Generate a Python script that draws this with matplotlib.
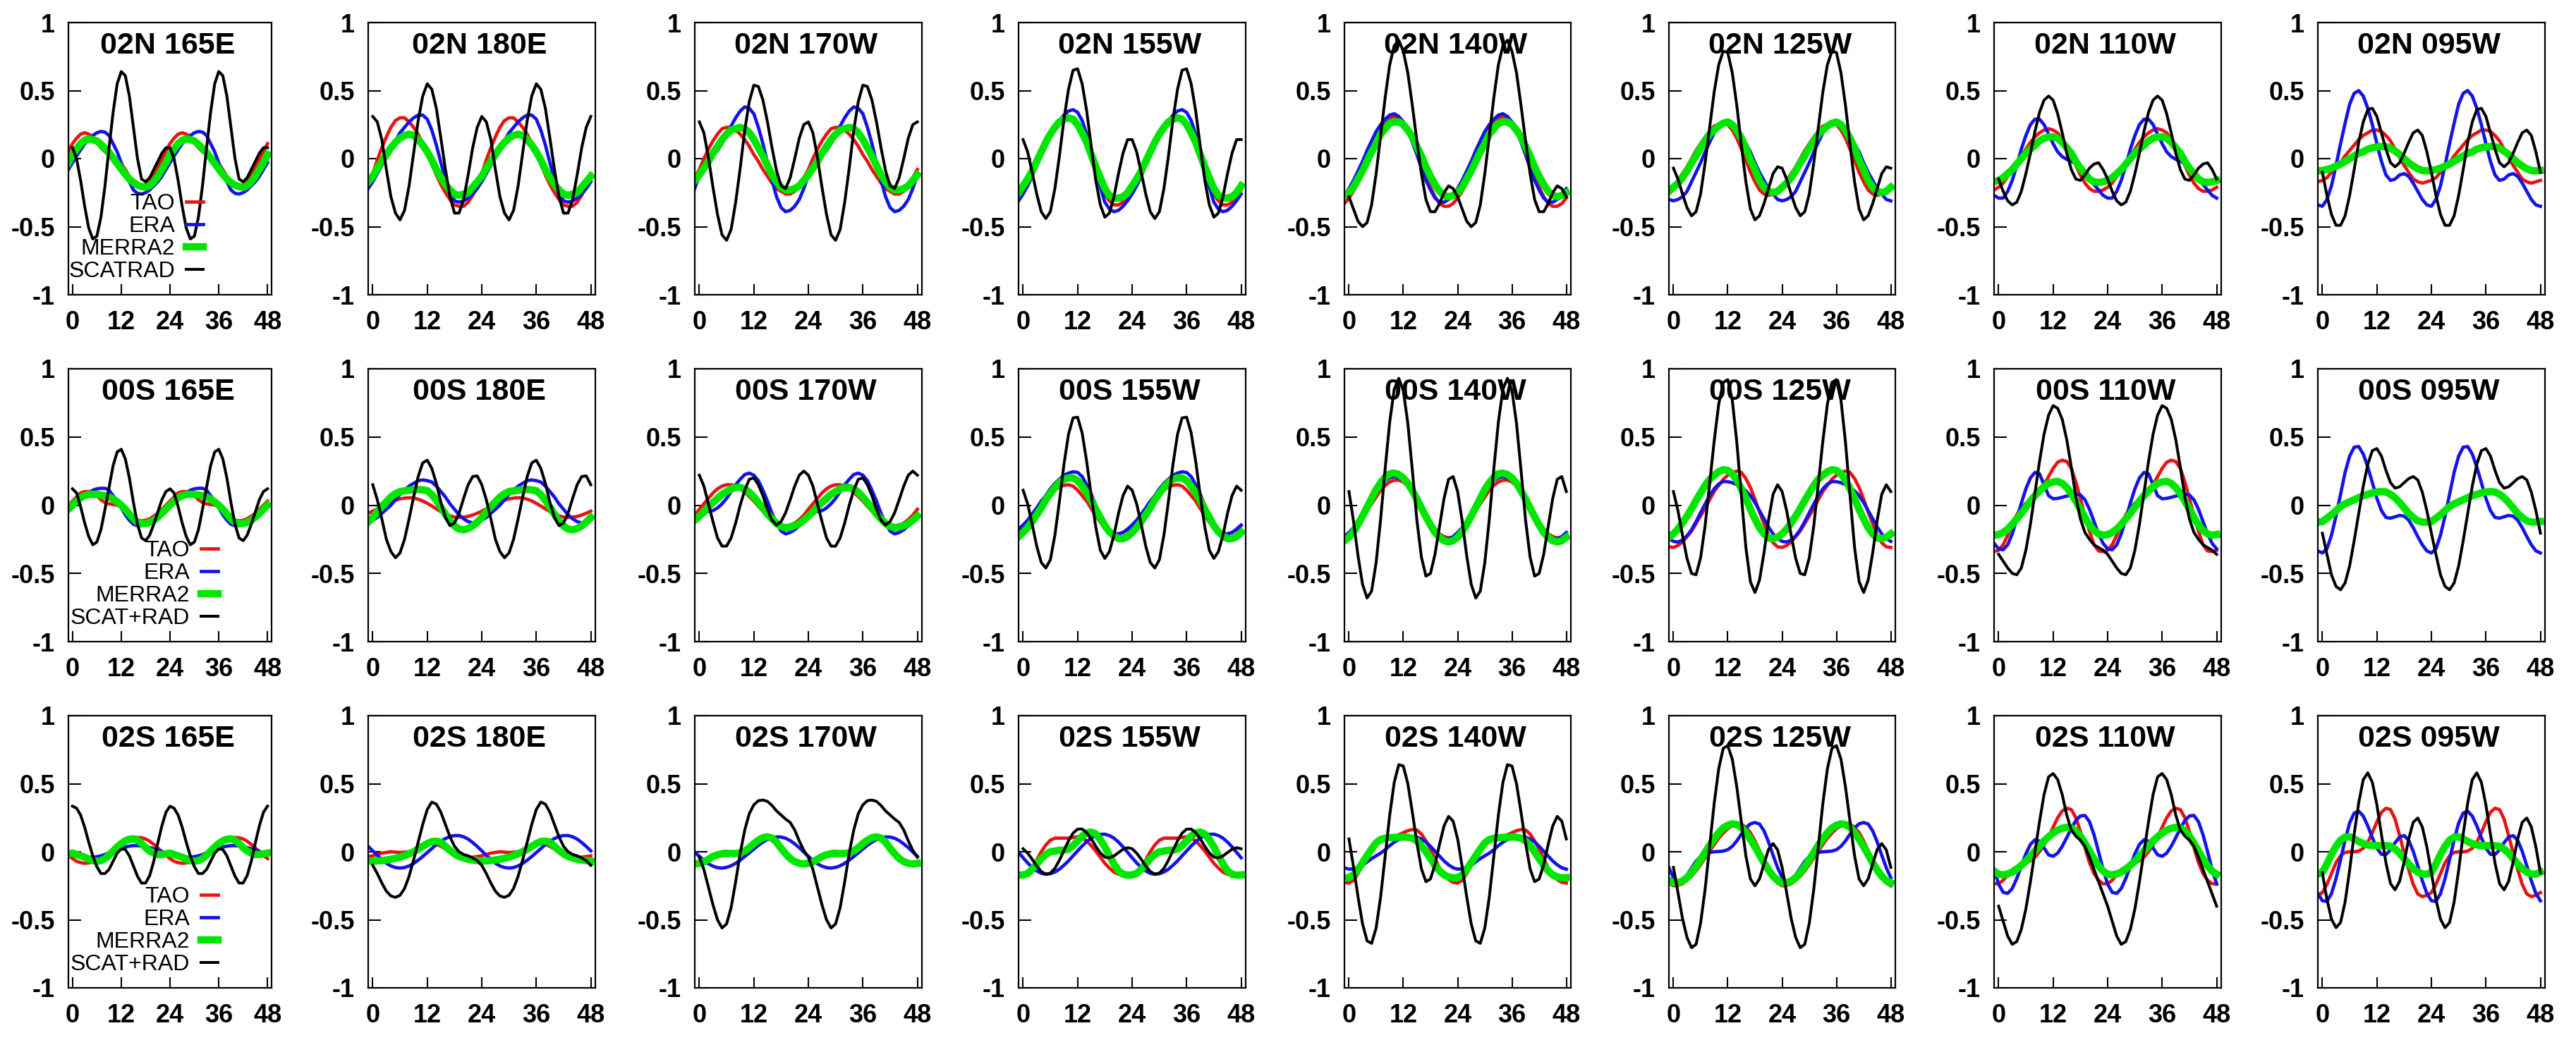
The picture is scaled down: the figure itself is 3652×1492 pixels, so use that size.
import numpy as np
import matplotlib
matplotlib.use("Agg")
import matplotlib.pyplot as plt

plt.rcParams["font.family"] = ["Liberation Sans", "DejaVu Sans"]

# mooring positions
lats = ["02N", "00S", "02S"]
lons = ["165E", "180E", "170W", "155W", "140W", "125W", "110W", "095W"]
scat_labels = ["SCATRAD", "SCAT+RAD", "SCAT+RAD"]

# composite daily cycle (hours 0..23), one list per longitude; the chart shows it twice
tao_02n = [
    [0.11, 0.15, 0.18, 0.19, 0.18, 0.16, 0.12, 0.08, 0.05, 0.03, 0.01, -0.01, -0.04, -0.08, -0.13, -0.17, -0.195, -0.2, -0.19, -0.16, -0.12, -0.065, -0.005, 0.055],
    [-0.11, -0.01, 0.08, 0.16, 0.23, 0.28, 0.30, 0.30, 0.27, 0.23, 0.18, 0.11, 0.04, -0.04, -0.12, -0.19, -0.25, -0.30, -0.34, -0.35, -0.35, -0.32, -0.27, -0.20],
    [-0.08, 0.00, 0.07, 0.13, 0.18, 0.22, 0.23, 0.23, 0.21, 0.18, 0.14, 0.09, 0.03, -0.02, -0.08, -0.13, -0.18, -0.22, -0.24, -0.26, -0.26, -0.24, -0.20, -0.14],
    [-0.23, -0.17, -0.10, -0.02, 0.05, 0.13, 0.19, 0.25, 0.28, 0.31, 0.31, 0.29, 0.24, 0.17, 0.09, -0.01, -0.10, -0.19, -0.26, -0.31, -0.34, -0.34, -0.32, -0.29],
    [-0.29, -0.24, -0.17, -0.09, -0.01, 0.08, 0.15, 0.22, 0.27, 0.30, 0.31, 0.30, 0.27, 0.21, 0.14, 0.05, -0.04, -0.13, -0.21, -0.28, -0.33, -0.35, -0.35, -0.33],
    [-0.21, -0.16, -0.11, -0.06, 0.00, 0.06, 0.11, 0.16, 0.20, 0.24, 0.25, 0.26, 0.25, 0.21, 0.15, 0.07, -0.01, -0.10, -0.17, -0.23, -0.26, -0.27, -0.26, -0.24],
    [-0.21, -0.18, -0.13, -0.09, -0.03, 0.02, 0.07, 0.12, 0.16, 0.19, 0.21, 0.22, 0.21, 0.19, 0.14, 0.09, 0.02, -0.05, -0.12, -0.18, -0.22, -0.24, -0.24, -0.23],
    [-0.16, -0.14, -0.10, -0.07, -0.03, 0.02, 0.06, 0.10, 0.14, 0.17, 0.19, 0.21, 0.21, 0.20, 0.17, 0.13, 0.07, 0.01, -0.05, -0.10, -0.15, -0.17, -0.18, -0.17],
]
era_02n = [
    [-0.03, 0.02, 0.065, 0.11, 0.14, 0.17, 0.19, 0.20, 0.195, 0.17, 0.11, 0.05, -0.03, -0.11, -0.17, -0.23, -0.255, -0.26, -0.25, -0.23, -0.20, -0.17, -0.13, -0.08],
    [-0.17, -0.11, -0.05, 0.01, 0.08, 0.13, 0.19, 0.23, 0.27, 0.30, 0.32, 0.32, 0.29, 0.21, 0.10, -0.03, -0.15, -0.24, -0.31, -0.32, -0.31, -0.29, -0.26, -0.22],
    [-0.12, -0.04, 0.00, 0.02, 0.06, 0.11, 0.17, 0.24, 0.30, 0.35, 0.38, 0.37, 0.33, 0.23, 0.11, -0.03, -0.16, -0.28, -0.36, -0.39, -0.38, -0.35, -0.30, -0.22],
    [-0.26, -0.20, -0.13, -0.05, 0.02, 0.10, 0.17, 0.23, 0.28, 0.32, 0.35, 0.36, 0.34, 0.28, 0.18, 0.05, -0.08, -0.21, -0.32, -0.37, -0.39, -0.38, -0.35, -0.31],
    [-0.22, -0.16, -0.09, -0.02, 0.06, 0.13, 0.20, 0.25, 0.29, 0.32, 0.33, 0.31, 0.27, 0.20, 0.12, 0.03, -0.07, -0.16, -0.23, -0.29, -0.32, -0.32, -0.30, -0.27],
    [-0.31, -0.30, -0.28, -0.24, -0.17, -0.10, -0.03, 0.05, 0.12, 0.19, 0.23, 0.26, 0.26, 0.24, 0.21, 0.17, 0.11, 0.05, -0.03, -0.10, -0.16, -0.22, -0.26, -0.30],
    [-0.29, -0.29, -0.24, -0.16, -0.05, 0.07, 0.17, 0.25, 0.29, 0.29, 0.25, 0.18, 0.11, 0.05, 0.015, -0.005, -0.02, -0.035, -0.06, -0.10, -0.15, -0.19, -0.23, -0.27],
    [-0.35, -0.30, -0.20, -0.05, 0.11, 0.26, 0.40, 0.48, 0.50, 0.46, 0.37, 0.25, 0.11, -0.02, -0.12, -0.16, -0.15, -0.12, -0.11, -0.13, -0.18, -0.24, -0.30, -0.34],
]
merra_02n = [
    [0.03, 0.07, 0.11, 0.135, 0.145, 0.14, 0.13, 0.105, 0.075, 0.045, 0.005, -0.035, -0.075, -0.115, -0.15, -0.175, -0.195, -0.205, -0.21, -0.20, -0.17, -0.13, -0.08, -0.03],
    [-0.13, -0.07, -0.02, 0.03, 0.08, 0.12, 0.15, 0.17, 0.18, 0.17, 0.14, 0.10, 0.05, -0.01, -0.08, -0.14, -0.19, -0.23, -0.26, -0.27, -0.26, -0.25, -0.21, -0.17],
    [-0.12, -0.07, -0.02, 0.04, 0.09, 0.14, 0.18, 0.21, 0.22, 0.23, 0.22, 0.19, 0.14, 0.08, 0.02, -0.05, -0.12, -0.17, -0.21, -0.23, -0.23, -0.22, -0.20, -0.16],
    [-0.20, -0.15, -0.09, -0.02, 0.05, 0.12, 0.18, 0.23, 0.27, 0.29, 0.30, 0.29, 0.25, 0.19, 0.12, 0.03, -0.06, -0.14, -0.22, -0.27, -0.29, -0.29, -0.28, -0.25],
    [-0.25, -0.21, -0.15, -0.09, -0.02, 0.05, 0.11, 0.18, 0.22, 0.26, 0.27, 0.27, 0.25, 0.21, 0.16, 0.09, 0.02, -0.06, -0.13, -0.19, -0.24, -0.27, -0.28, -0.27],
    [-0.21, -0.18, -0.14, -0.09, -0.03, 0.02, 0.08, 0.13, 0.18, 0.21, 0.24, 0.26, 0.27, 0.25, 0.21, 0.15, 0.08, -0.01, -0.08, -0.16, -0.21, -0.24, -0.25, -0.24],
    [-0.16, -0.14, -0.11, -0.08, -0.04, 0.00, 0.04, 0.07, 0.10, 0.13, 0.15, 0.16, 0.16, 0.15, 0.12, 0.08, 0.04, -0.02, -0.07, -0.11, -0.15, -0.17, -0.175, -0.17],
    [-0.087, -0.08, -0.07, -0.055, -0.04, -0.02, 0.00, 0.02, 0.04, 0.05, 0.07, 0.08, 0.086, 0.09, 0.088, 0.076, 0.056, 0.031, 0.0, -0.03, -0.054, -0.075, -0.087, -0.09],
]
scat_02n = [
    [0.08, 0.0, -0.16, -0.35, -0.51, -0.59, -0.57, -0.43, -0.2, 0.08, 0.34, 0.55, 0.64, 0.61, 0.46, 0.23, 0.0, -0.15, -0.17, -0.14, -0.08, -0.02, 0.04, 0.08],
    [0.31, 0.27, 0.14, -0.08, -0.28, -0.40, -0.45, -0.38, -0.20, 0.04, 0.28, 0.46, 0.55, 0.51, 0.37, 0.15, -0.08, -0.28, -0.40, -0.40, -0.30, -0.12, 0.08, 0.23],
    [0.27, 0.19, 0.01, -0.21, -0.41, -0.56, -0.60, -0.52, -0.32, -0.07, 0.21, 0.42, 0.54, 0.53, 0.43, 0.27, 0.08, -0.09, -0.20, -0.22, -0.14, 0.00, 0.15, 0.25],
    [0.14, 0.05, -0.10, -0.26, -0.39, -0.44, -0.39, -0.22, 0.02, 0.29, 0.51, 0.65, 0.66, 0.55, 0.35, 0.09, -0.16, -0.34, -0.43, -0.40, -0.28, -0.11, 0.04, 0.14],
    [-0.28, -0.37, -0.46, -0.50, -0.47, -0.34, -0.11, 0.17, 0.45, 0.69, 0.83, 0.87, 0.79, 0.63, 0.39, 0.13, -0.11, -0.30, -0.39, -0.39, -0.33, -0.25, -0.20, -0.22],
    [-0.07, -0.15, -0.26, -0.36, -0.42, -0.39, -0.26, -0.03, 0.23, 0.49, 0.69, 0.79, 0.78, 0.63, 0.39, 0.10, -0.17, -0.37, -0.45, -0.42, -0.33, -0.22, -0.11, -0.06],
    [-0.15, -0.24, -0.31, -0.34, -0.32, -0.24, -0.11, 0.04, 0.20, 0.34, 0.43, 0.46, 0.43, 0.33, 0.19, 0.04, -0.08, -0.15, -0.16, -0.12, -0.07, -0.04, -0.03, -0.08],
    [-0.10, -0.27, -0.41, -0.49, -0.49, -0.42, -0.27, -0.08, 0.12, 0.27, 0.36, 0.37, 0.31, 0.19, 0.07, -0.03, -0.06, -0.03, 0.04, 0.12, 0.19, 0.21, 0.17, 0.05],
]

tao_00s = [
    [0.03, 0.06, 0.09, 0.10, 0.10, 0.09, 0.07, 0.04, 0.02, 0.01, 0.005, 0.0, -0.01, -0.03, -0.06, -0.09, -0.11, -0.115, -0.11, -0.10, -0.08, -0.06, -0.03, 0.00],
    [-0.044, -0.027, -0.01, 0.007, 0.023, 0.036, 0.046, 0.052, 0.055, 0.053, 0.044, 0.031, 0.014, -0.006, -0.027, -0.047, -0.065, -0.078, -0.087, -0.09, -0.088, -0.082, -0.072, -0.059],
    [-0.03, 0.01, 0.05, 0.09, 0.12, 0.14, 0.15, 0.15, 0.14, 0.12, 0.095, 0.064, 0.03, -0.008, -0.044, -0.078, -0.106, -0.129, -0.143, -0.15, -0.146, -0.131, -0.106, -0.073],
    [-0.15, -0.12, -0.08, -0.03, 0.01, 0.05, 0.085, 0.11, 0.135, 0.145, 0.15, 0.14, 0.11, 0.07, 0.03, -0.025, -0.075, -0.125, -0.165, -0.19, -0.21, -0.21, -0.20, -0.18],
    [-0.21, -0.18, -0.14, -0.09, -0.04, 0.01, 0.06, 0.11, 0.145, 0.17, 0.183, 0.183, 0.17, 0.14, 0.095, 0.045, -0.015, -0.07, -0.125, -0.17, -0.21, -0.23, -0.24, -0.235],
    [-0.31, -0.295, -0.27, -0.23, -0.19, -0.135, -0.08, -0.02, 0.04, 0.10, 0.145, 0.19, 0.22, 0.24, 0.25, 0.24, 0.195, 0.13, 0.045, -0.05, -0.135, -0.22, -0.275, -0.305],
    [-0.33, -0.29, -0.22, -0.14, -0.07, -0.02, 0.015, 0.04, 0.065, 0.10, 0.15, 0.21, 0.27, 0.315, 0.33, 0.32, 0.27, 0.17, 0.05, -0.08, -0.19, -0.29, -0.335, -0.34],
    None,
]
era_00s = [
    [-0.01, 0.02, 0.045, 0.07, 0.09, 0.11, 0.12, 0.124, 0.124, 0.11, 0.07, 0.03, -0.02, -0.07, -0.11, -0.14, -0.15, -0.148, -0.14, -0.13, -0.11, -0.09, -0.06, -0.04],
    [-0.11, -0.09, -0.06, -0.03, 0.00, 0.04, 0.08, 0.11, 0.14, 0.16, 0.18, 0.185, 0.18, 0.17, 0.14, 0.10, 0.06, 0.01, -0.03, -0.07, -0.10, -0.12, -0.13, -0.126],
    [-0.08, -0.055, -0.045, -0.04, -0.02, 0.01, 0.05, 0.10, 0.15, 0.19, 0.225, 0.235, 0.22, 0.18, 0.11, 0.03, -0.06, -0.13, -0.19, -0.21, -0.20, -0.18, -0.15, -0.11],
    [-0.145, -0.11, -0.065, -0.02, 0.03, 0.07, 0.12, 0.16, 0.19, 0.22, 0.235, 0.245, 0.24, 0.21, 0.15, 0.08, 0.00, -0.08, -0.14, -0.19, -0.21, -0.21, -0.20, -0.175],
    [-0.20, -0.165, -0.115, -0.065, -0.005, 0.05, 0.10, 0.145, 0.18, 0.20, 0.21, 0.20, 0.18, 0.14, 0.09, 0.035, -0.03, -0.09, -0.15, -0.195, -0.225, -0.245, -0.245, -0.23],
    [-0.265, -0.27, -0.255, -0.225, -0.18, -0.12, -0.055, 0.01, 0.07, 0.12, 0.155, 0.173, 0.172, 0.165, 0.15, 0.13, 0.105, 0.07, 0.02, -0.04, -0.10, -0.16, -0.21, -0.245],
    [-0.32, -0.327, -0.29, -0.21, -0.10, 0.015, 0.12, 0.20, 0.24, 0.23, 0.15, 0.07, 0.047, 0.05, 0.058, 0.067, 0.075, 0.08, 0.075, 0.04, -0.03, -0.12, -0.21, -0.28],
    [-0.35, -0.32, -0.22, -0.08, 0.08, 0.24, 0.36, 0.425, 0.43, 0.375, 0.28, 0.165, 0.05, -0.04, -0.09, -0.095, -0.085, -0.075, -0.08, -0.11, -0.165, -0.23, -0.29, -0.335],
]
merra_00s = [
    [0.0, 0.03, 0.054, 0.07, 0.079, 0.08, 0.078, 0.075, 0.07, 0.06, 0.045, 0.025, 0.0, -0.03, -0.065, -0.10, -0.125, -0.134, -0.134, -0.126, -0.111, -0.087, -0.06, -0.029],
    [-0.09, -0.05, -0.01, 0.025, 0.06, 0.084, 0.10, 0.105, 0.11, 0.113, 0.115, 0.112, 0.106, 0.078, 0.036, -0.014, -0.067, -0.115, -0.153, -0.175, -0.18, -0.171, -0.152, -0.124],
    [-0.08, -0.05, -0.01, 0.02, 0.05, 0.08, 0.10, 0.12, 0.13, 0.13, 0.12, 0.095, 0.06, 0.02, -0.02, -0.065, -0.10, -0.135, -0.155, -0.165, -0.16, -0.15, -0.135, -0.11],
    [-0.20, -0.165, -0.12, -0.07, -0.02, 0.04, 0.085, 0.13, 0.165, 0.19, 0.20, 0.20, 0.18, 0.14, 0.09, 0.035, -0.03, -0.09, -0.15, -0.195, -0.225, -0.245, -0.245, -0.23],
    [-0.235, -0.195, -0.14, -0.08, -0.015, 0.05, 0.115, 0.165, 0.205, 0.23, 0.235, 0.225, 0.20, 0.16, 0.105, 0.045, -0.02, -0.085, -0.145, -0.20, -0.235, -0.26, -0.27, -0.26],
    [-0.21, -0.175, -0.13, -0.08, -0.025, 0.035, 0.09, 0.145, 0.19, 0.22, 0.245, 0.26, 0.255, 0.23, 0.185, 0.12, 0.05, -0.03, -0.10, -0.165, -0.21, -0.24, -0.245, -0.235],
    [-0.215, -0.20, -0.175, -0.14, -0.10, -0.06, -0.015, 0.03, 0.07, 0.105, 0.135, 0.16, 0.17, 0.175, 0.16, 0.13, 0.085, 0.03, -0.03, -0.09, -0.145, -0.185, -0.21, -0.22],
    [-0.12, -0.095, -0.07, -0.04, -0.01, 0.01, 0.025, 0.04, 0.055, 0.07, 0.08, 0.09, 0.097, 0.10, 0.097, 0.08, 0.054, 0.02, -0.02, -0.06, -0.09, -0.115, -0.124, -0.124],
]
scat_00s = [
    [0.12, 0.09, -0.01, -0.13, -0.23, -0.29, -0.27, -0.18, -0.03, 0.13, 0.29, 0.39, 0.41, 0.34, 0.20, 0.02, -0.14, -0.24, -0.26, -0.22, -0.14, -0.05, 0.04, 0.10],
    [0.15, 0.04, -0.10, -0.25, -0.34, -0.385, -0.35, -0.25, -0.10, 0.06, 0.21, 0.31, 0.33, 0.27, 0.16, 0.02, -0.09, -0.15, -0.13, -0.06, 0.05, 0.15, 0.21, 0.215],
    [0.22, 0.14, 0.01, -0.12, -0.24, -0.30, -0.30, -0.24, -0.13, 0.00, 0.11, 0.19, 0.20, 0.15, 0.07, -0.03, -0.11, -0.145, -0.12, -0.055, 0.04, 0.14, 0.22, 0.25],
    [0.11, 0.01, -0.14, -0.30, -0.42, -0.46, -0.40, -0.22, 0.03, 0.30, 0.52, 0.64, 0.645, 0.53, 0.32, 0.07, -0.16, -0.33, -0.39, -0.34, -0.22, -0.06, 0.07, 0.14],
    [0.10, -0.115, -0.37, -0.58, -0.68, -0.63, -0.42, -0.10, 0.27, 0.61, 0.85, 0.93, 0.84, 0.60, 0.255, -0.11, -0.38, -0.52, -0.50, -0.36, -0.155, 0.05, 0.19, 0.21],
    [0.10, -0.04, -0.22, -0.39, -0.50, -0.51, -0.385, -0.15, 0.16, 0.47, 0.74, 0.90, 0.92, 0.77, 0.46, 0.07, -0.31, -0.56, -0.64, -0.55, -0.35, -0.11, 0.08, 0.15],
    [-0.36, -0.41, -0.46, -0.50, -0.51, -0.46, -0.33, -0.14, 0.09, 0.32, 0.52, 0.66, 0.73, 0.71, 0.63, 0.48, 0.28, 0.06, -0.10, -0.20, -0.25, -0.29, -0.31, -0.33],
    [-0.205, -0.36, -0.51, -0.595, -0.62, -0.57, -0.445, -0.26, -0.06, 0.14, 0.30, 0.40, 0.415, 0.36, 0.255, 0.165, 0.125, 0.135, 0.165, 0.195, 0.21, 0.185, 0.095, -0.04],
]

tao_02s = [
    [-0.05, -0.07, -0.08, -0.085, -0.082, -0.075, -0.062, -0.045, -0.026, -0.004, 0.018, 0.04, 0.06, 0.078, 0.092, 0.10, 0.105, 0.103, 0.094, 0.077, 0.054, 0.028, 0.0, -0.026],
    [-0.03, -0.02, -0.01, -0.005, 0.0, -0.003, -0.005, -0.003, 0.0, 0.01, 0.02, 0.035, 0.05, 0.06, 0.055, 0.04, 0.02, -0.005, -0.03, -0.042, -0.045, -0.043, -0.04, -0.035],
    [-0.085, -0.08, -0.06, -0.035, -0.012, 0.0, 0.003, -0.003, -0.012, -0.015, -0.005, 0.02, 0.05, 0.08, 0.10, 0.11, 0.10, 0.07, 0.03, -0.01, -0.045, -0.07, -0.082, -0.087],
    [-0.17, -0.16, -0.12, -0.06, 0.0, 0.05, 0.085, 0.10, 0.10, 0.10, 0.10, 0.105, 0.11, 0.10, 0.08, 0.045, 0.005, -0.04, -0.085, -0.12, -0.15, -0.165, -0.17, -0.17],
    [-0.23, -0.21, -0.16, -0.10, -0.04, 0.01, 0.05, 0.08, 0.095, 0.105, 0.115, 0.125, 0.14, 0.155, 0.163, 0.16, 0.13, 0.08, 0.02, -0.05, -0.12, -0.17, -0.205, -0.225],
    [-0.25, -0.247, -0.235, -0.21, -0.18, -0.14, -0.095, -0.045, 0.005, 0.053, 0.10, 0.137, 0.17, 0.19, 0.203, 0.203, 0.18, 0.14, 0.08, 0.01, -0.063, -0.13, -0.19, -0.23],
    [-0.235, -0.21, -0.17, -0.13, -0.11, -0.10, -0.085, -0.065, -0.04, 0.00, 0.05, 0.11, 0.18, 0.25, 0.30, 0.32, 0.31, 0.25, 0.15, 0.03, -0.08, -0.16, -0.21, -0.235],
    [-0.30, -0.24, -0.16, -0.08, -0.03, -0.005, 0.0, 0.0, 0.005, 0.025, 0.07, 0.14, 0.22, 0.29, 0.32, 0.31, 0.24, 0.12, -0.01, -0.13, -0.24, -0.31, -0.33, -0.32],
]
era_02s = [
    [-0.015, -0.025, -0.03, -0.037, -0.04, -0.04, -0.036, -0.03, -0.02, -0.009, 0.003, 0.014, 0.025, 0.035, 0.041, 0.045, 0.045, 0.042, 0.038, 0.031, 0.022, 0.013, 0.003, -0.008],
    [0.007, -0.026, -0.056, -0.084, -0.104, -0.116, -0.12, -0.116, -0.104, -0.086, -0.062, -0.035, -0.006, 0.023, 0.053, 0.078, 0.097, 0.112, 0.119, 0.119, 0.11, 0.093, 0.068, 0.039],
    [-0.034, -0.063, -0.088, -0.106, -0.117, -0.12, -0.115, -0.103, -0.085, -0.062, -0.035, -0.008, 0.02, 0.047, 0.071, 0.09, 0.103, 0.109, 0.108, 0.099, 0.082, 0.058, 0.03, -0.002],
    [-0.044, -0.082, -0.115, -0.141, -0.159, -0.165, -0.161, -0.149, -0.128, -0.099, -0.067, -0.03, 0.006, 0.042, 0.074, 0.101, 0.118, 0.128, 0.129, 0.119, 0.10, 0.071, 0.036, -0.004],
    [-0.128, -0.125, -0.115, -0.10, -0.075, -0.05, -0.03, -0.01, 0.015, 0.045, 0.07, 0.09, 0.10, 0.108, 0.11, 0.107, 0.094, 0.072, 0.04, 0.004, -0.032, -0.068, -0.096, -0.118],
    [-0.19, -0.223, -0.21, -0.17, -0.12, -0.07, -0.035, -0.015, -0.005, 0.0, 0.002, 0.005, 0.015, 0.04, 0.08, 0.13, 0.175, 0.205, 0.215, 0.204, 0.154, 0.072, -0.025, -0.117],
    [-0.238, -0.298, -0.306, -0.27, -0.196, -0.106, -0.015, 0.054, 0.088, 0.078, 0.028, -0.023, -0.033, -0.01, 0.04, 0.104, 0.171, 0.229, 0.263, 0.267, 0.221, 0.125, 0.0, -0.13],
    [-0.36, -0.365, -0.308, -0.198, -0.057, 0.086, 0.211, 0.284, 0.298, 0.262, 0.19, 0.103, 0.026, -0.019, -0.02, 0.014, 0.066, 0.108, 0.119, 0.084, 0.003, -0.103, -0.213, -0.306],
]
merra_02s = [
    [-0.01, -0.02, -0.03, -0.04, -0.055, -0.065, -0.07, -0.065, -0.05, -0.025, 0.005, 0.035, 0.06, 0.08, 0.092, 0.095, 0.085, 0.06, 0.03, 0.005, -0.01, -0.02, -0.02, -0.015],
    [-0.07, -0.067, -0.065, -0.06, -0.055, -0.048, -0.04, -0.028, -0.015, 0.0, 0.02, 0.04, 0.06, 0.075, 0.078, 0.07, 0.04, 0.01, -0.015, -0.035, -0.045, -0.055, -0.06, -0.065],
    [-0.085, -0.075, -0.055, -0.035, -0.022, -0.015, -0.013, -0.013, -0.012, -0.008, 0.005, 0.03, 0.06, 0.085, 0.103, 0.11, 0.10, 0.07, 0.025, -0.015, -0.05, -0.072, -0.085, -0.09],
    [-0.17, -0.16, -0.13, -0.09, -0.05, -0.02, 0.0, 0.005, 0.01, 0.012, 0.02, 0.045, 0.08, 0.115, 0.138, 0.145, 0.13, 0.09, 0.035, -0.03, -0.09, -0.14, -0.165, -0.172],
    [-0.19, -0.17, -0.13, -0.08, -0.03, 0.02, 0.065, 0.09, 0.10, 0.103, 0.105, 0.107, 0.108, 0.107, 0.10, 0.08, 0.045, 0.0, -0.05, -0.10, -0.14, -0.17, -0.185, -0.192],
    [-0.228, -0.228, -0.215, -0.19, -0.154, -0.108, -0.058, -0.005, 0.048, 0.096, 0.14, 0.175, 0.195, 0.205, 0.20, 0.179, 0.142, 0.092, 0.038, -0.021, -0.081, -0.134, -0.18, -0.212],
    [-0.165, -0.17, -0.163, -0.149, -0.128, -0.10, -0.069, -0.032, 0.005, 0.042, 0.079, 0.11, 0.137, 0.159, 0.173, 0.18, 0.175, 0.153, 0.114, 0.063, 0.005, -0.053, -0.104, -0.142],
    [-0.15, -0.09, -0.02, 0.04, 0.085, 0.108, 0.11, 0.095, 0.075, 0.06, 0.05, 0.045, 0.045, 0.045, 0.045, 0.04, 0.02, -0.01, -0.05, -0.09, -0.125, -0.15, -0.163, -0.165],
]
scat_02s = [
    [0.335, 0.32, 0.27, 0.18, 0.07, -0.03, -0.11, -0.16, -0.16, -0.13, -0.07, -0.01, 0.02, 0.017, -0.03, -0.105, -0.18, -0.23, -0.23, -0.175, -0.07, 0.065, 0.19, 0.29],
    [-0.10, -0.16, -0.23, -0.29, -0.325, -0.335, -0.32, -0.27, -0.18, -0.06, 0.07, 0.20, 0.31, 0.365, 0.35, 0.29, 0.20, 0.11, 0.04, 0.00, -0.02, -0.03, -0.045, -0.065],
    [-0.04, -0.13, -0.26, -0.39, -0.50, -0.56, -0.53, -0.41, -0.22, -0.01, 0.16, 0.28, 0.345, 0.375, 0.38, 0.37, 0.34, 0.30, 0.27, 0.24, 0.215, 0.16, 0.08, 0.01],
    [0.022, -0.01, -0.055, -0.105, -0.145, -0.165, -0.157, -0.122, -0.062, 0.01, 0.08, 0.137, 0.166, 0.167, 0.14, 0.095, 0.04, -0.008, -0.04, -0.044, -0.031, -0.006, 0.018, 0.03],
    [0.094, -0.11, -0.33, -0.53, -0.655, -0.673, -0.56, -0.33, -0.03, 0.27, 0.51, 0.64, 0.63, 0.50, 0.29, 0.065, -0.125, -0.22, -0.20, -0.095, 0.055, 0.19, 0.26, 0.225],
    [-0.115, -0.30, -0.49, -0.63, -0.705, -0.68, -0.525, -0.275, 0.04, 0.355, 0.61, 0.76, 0.78, 0.68, 0.475, 0.22, -0.03, -0.20, -0.25, -0.20, -0.09, 0.017, 0.06, 0.014],
    [-0.40, -0.51, -0.62, -0.68, -0.66, -0.57, -0.42, -0.22, 0.0, 0.22, 0.42, 0.55, 0.575, 0.53, 0.42, 0.27, 0.16, 0.115, 0.085, 0.04, -0.04, -0.13, -0.22, -0.31],
    [-0.155, -0.35, -0.495, -0.558, -0.52, -0.37, -0.136, 0.13, 0.36, 0.53, 0.58, 0.51, 0.345, 0.127, -0.082, -0.234, -0.28, -0.217, -0.074, 0.094, 0.217, 0.248, 0.182, 0.035],
]

tao = [tao_02n, tao_00s, tao_02s]
era = [era_02n, era_00s, era_02s]
merra = [merra_02n, merra_00s, merra_02s]
scat = [scat_02n, scat_00s, scat_02s]

# panel placement in pixels (left, right) per column, (top, bottom) per row
W, H = 3652, 1492
col_lr = [(97, 385), (522, 844), (985, 1307), (1444, 1766),
          (1906, 2227), (2366, 2687), (2827, 3149), (3286, 3608)]
row_tb = [(32, 418), (523, 910), (1015, 1401)]
legend_x = [0.663, 0.736, 0.736]

RED, BLUE, GREEN = "#e81414", "#1414e8", "#00e600"

hours = np.arange(-1, 49)      # reanalysis / mooring curves
hours_s = np.arange(0, 49)     # satellite curve


def two_days(cycle, h):
    return np.asarray(cycle)[h % 24]


fig = plt.figure(figsize=(W / 100, H / 100), dpi=100)

for r in range(3):
    for c in range(8):
        l, rr = col_lr[c]
        t, b = row_tb[r]
        ax = fig.add_axes([l / W, 1 - b / H, (rr - l) / W, (b - t) / H])

        if tao[r][c] is not None:
            ax.plot(hours, two_days(tao[r][c], hours), color=RED, lw=3.4, label="TAO")
        ax.plot(hours, two_days(era[r][c], hours), color=BLUE, lw=3.4, label="ERA")
        ax.plot(hours, two_days(merra[r][c], hours), color=GREEN, lw=7.5, label="MERRA2")
        ax.plot(hours_s, two_days(scat[r][c], hours_s), color="black", lw=2.9,
                label=scat_labels[r])

        ax.set_xlim(-1, 49)
        ax.set_ylim(-1, 1)
        ax.set_xticks([0, 12, 24, 36, 48])
        ax.set_yticks([-1, -0.5, 0, 0.5, 1])
        ax.set_yticklabels(["-1", "-0.5", "0", "0.5", "1"])
        ax.tick_params(direction="in", top=False, right=False, width=1.5, labelsize=26)
        ax.tick_params(axis="x", length=11, pad=16)
        ax.tick_params(axis="y", length=13, pad=14)
        for lab in ax.get_xticklabels() + ax.get_yticklabels():
            lab.set_fontweight("bold")
        for sp in ax.spines.values():
            sp.set_linewidth(1.6)

        ax.text(0.49, 0.915, f"{lats[r]} {lons[c]}", transform=ax.transAxes,
                ha="center", va="center", fontsize=31, fontweight="bold", zorder=5)

        if c == 0:
            ax.legend(loc="upper right", bbox_to_anchor=(legend_x[r], 0.372),
                      markerfirst=False, frameon=False, prop={"size": 23},
                      handlelength=0.75, handletextpad=0.5, labelspacing=0.06,
                      borderpad=0, borderaxespad=0)

fig.savefig("out.png", dpi=100)
